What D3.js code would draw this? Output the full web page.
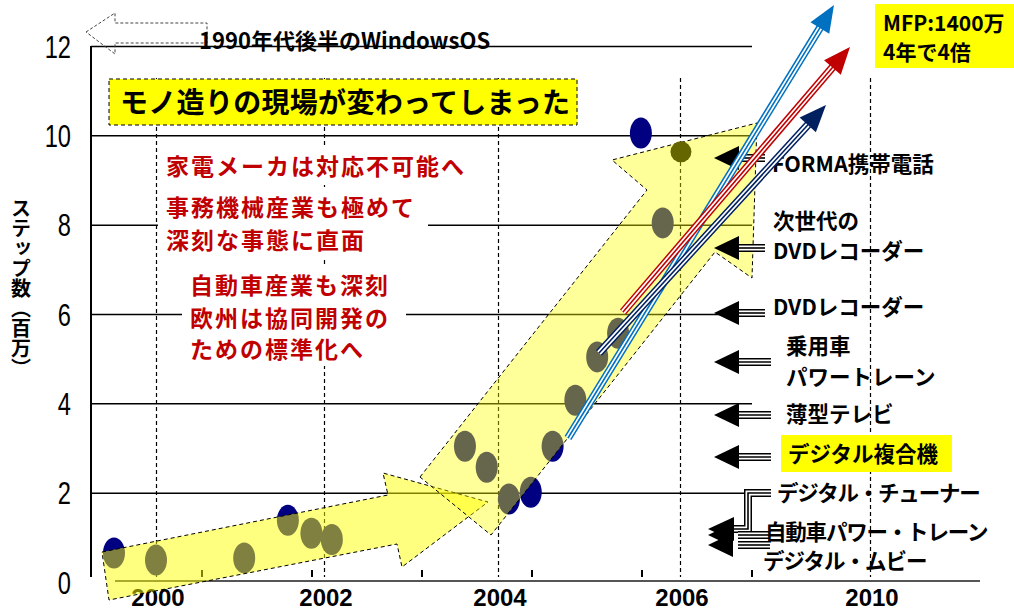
<!DOCTYPE html>
<html>
<head>
<meta charset="utf-8">
<script src="https://cdn.jsdelivr.net/npm/d3@7/dist/d3.min.js"></script>
<style>
  body { margin: 0; background: #fff; }
  svg { display: block; font-family: "Noto Sans CJK JP", sans-serif; }
</style>
</head>
<body>
<svg width="1014" height="610"></svg>
<script>
// ---- data ----
const yearTicks = [2000, 2002, 2004, 2006, 2010];
const stepTicks = [0, 2, 4, 6, 8, 10, 12];
// step counts (millions) of embedded software per product, by year
const pointYears = [1999.5, 2000, 2001.05, 2001.57, 2001.85, 2002.09, 2003.62, 2003.87, 2004.12,
                    2004.36, 2004.6, 2004.85, 2005.09, 2005.32, 2005.57, 2005.81, 2006.02];
const pointSteps = [0.65, 0.49, 0.54, 1.38, 1.09, 0.95, 3.04, 2.57, 1.86,
                    2.01, 3.04, 4.07, 5.04, 5.57, 10.05, 8.04, 9.63];
const productLabels = [
  ["FORMA携帯電話"],
  ["次世代の", "DVDレコーダー"],
  ["DVDレコーダー"],
  ["乗用車", "パワートレーン"],
  ["薄型テレビ"],
  ["デジタル複合機"],
  ["デジタル・チューナー"],
  ["自動車パワー・トレーン"],
  ["デジタル・ムビー"]
];
const redNotes = [
  ["家電メーカは対応不可能へ"],
  ["事務機械産業も極めて", "深刻な事態に直面"],
  ["自動車産業も深刻", "欧州は協同開発の", "ための標準化へ"]
];
const headline = "モノ造りの現場が変わってしまった";
const osNote = "1990年代後半のWindowsOS";
const mfpNote = ["MFP:1400万", "4年で4倍"];
const yTitle = "ステップ数（百万）";

// ---- scales ----
const svg = d3.select("svg");
const x = d3.scaleLinear().domain(yearTicks).range([156, 324, 498, 680, 870]);
const y = d3.scaleLinear().domain([0, 12]).range([582, 46]);

// gridlines + y axis
const gridG = svg.append("g").attr("transform", "translate(91,0)")
  .call(d3.axisLeft(y).tickValues(stepTicks.slice(1)).tickSizeInner(-661).tickSizeOuter(0).tickFormat(""));
gridG.select(".domain").attr("stroke", "#000").attr("stroke-width", 2).attr("d", "M0,46V577");
gridG.selectAll(".tick line").attr("stroke", "#000").attr("stroke-width", 1.5);

// y tick labels (narrow)
svg.selectAll(".ylab").data(stepTicks).join("text")
  .attr("class", "ylab")
  .attr("transform", d => `translate(71,${y(d)}) scale(0.74,1)`)
  .attr("text-anchor", "end").attr("dy", "0.36em")
  .style("font-family", "'Liberation Sans Narrow','Liberation Sans',sans-serif")
  .style("font-size", "32px")
  .text(d => d);

// dashed year lines
svg.selectAll(".yr").data(yearTicks).join("line")
  .attr("x1", d => Math.round(x(d)) + 0.5).attr("x2", d => Math.round(x(d)) + 0.5).attr("y1", 78).attr("y2", 577)
  .attr("stroke", "#000").attr("stroke-width", 1.2).attr("stroke-dasharray", "4,3");

// x axis line and minor ticks
svg.append("line").attr("x1", 115).attr("x2", 980).attr("y1", 581).attr("y2", 581)
  .attr("stroke", "#555").attr("stroke-width", 2);
const minor = d3.scaleLinear().domain([0, 5]).range([202, 752]);
svg.selectAll(".mt").data(d3.range(6)).join("line")
  .attr("x1", d => minor(d)).attr("x2", d => minor(d)).attr("y1", 570).attr("y2", 577)
  .attr("stroke", "#000").attr("stroke-width", 2);

svg.selectAll(".xlab").data(yearTicks).join("text")
  .attr("x", d => x(d) + 2).attr("y", 606).attr("text-anchor", "middle")
  .style("font-family", "'Liberation Sans',sans-serif").style("font-weight", "bold").style("font-size", "24px")
  .text(d => d);

// y title
svg.append("text").attr("x", 21).attr("y", 198)
  .style("writing-mode", "vertical-rl").style("font-weight", "bold").style("font-size", "20px")
  .text(yTitle);

// data points
const pts = pointYears.map((t, i) => ({ t, v: pointSteps[i], last: i === pointYears.length - 1 }));
svg.selectAll(".pt").data(pts.filter(d => !d.last)).join("ellipse")
  .attr("cx", d => x(d.t)).attr("cy", d => y(d.v)).attr("rx", 11).attr("ry", 15.5)
  .attr("fill", "#000080");

// red notes with white backing
const noteLayout = [
  { x: 166, y: [167], box: [158, 148, 312, 37] },
  { x: 166, y: [208, 241], box: [158, 190, 270, 68] },
  { x: 190, y: [286, 319, 350], box: [182, 266, 224, 100] }
];
redNotes.forEach((lines, i) => {
  const L = noteLayout[i];
  svg.append("rect").attr("x", L.box[0]).attr("y", L.box[1]).attr("width", L.box[2]).attr("height", L.box[3]).attr("fill", "#fff");
  lines.forEach((s, j) => svg.append("text").attr("x", L.x).attr("y", L.y[j]).attr("dy", "0.36em")
    .attr("fill", "#c00000").style("font-weight", "bold").style("font-size", "23px").style("letter-spacing", "2px")
    .text(s));
});

// headline box
svg.append("rect").attr("x", 109).attr("y", 79).attr("width", 468).attr("height", 46)
  .attr("fill", "#ffff00").attr("stroke", "#000").attr("stroke-dasharray", "4,3");
svg.append("text").attr("x", 120).attr("y", 103).attr("dy", "0.36em")
  .style("font-weight", "bold").style("font-size", "28px").style("letter-spacing", "0.3px").text(headline);

// big translucent trend arrows
const shape1 = [[102, 552], [388, 495], [383, 473], [488, 502], [402, 567], [397, 544], [109, 600]];
const shape2 = [[420, 477], [647, 190], [612, 160], [757, 123], [752, 278], [715, 252], [491, 535]];
[[shape1, 0.5], [shape2, 0.4]].forEach(([s, op]) => svg.append("polygon")
  .attr("points", s.join(" ")).attr("fill", "#ffff00").attr("fill-opacity", op)
  .attr("stroke", "#000").attr("stroke-width", 1).attr("stroke-dasharray", "4,3"));

svg.selectAll(".ptl").data(pts.filter(d => d.last)).join("circle")
  .attr("cx", d => x(d.t)).attr("cy", d => y(d.v)).attr("r", 10.5).attr("fill", "#666600");

// triple-line arrows
function tripleLine(path, color) {
  [[8, color], [5, "#fff"], [1.6, color]].forEach(([w, c]) => svg.append("path")
    .attr("d", d3.line()(path)).attr("fill", "none").attr("stroke", c).attr("stroke-width", w));
}
function head(tip, from, color, hl = 27, hw = 11) {
  const a = Math.atan2(tip[1] - from[1], tip[0] - from[0]);
  const bx = tip[0] - hl * Math.cos(a), by = tip[1] - hl * Math.sin(a);
  svg.append("polygon").attr("fill", color).attr("points", [
    tip, [bx + hw * Math.sin(a), by - hw * Math.cos(a)], [bx - hw * Math.sin(a), by + hw * Math.cos(a)]
  ].join(" "));
}

// black pointer arrows for product labels
const labelLayout = [
  { x: 772, y: [165], tip: 158, end: 765 },
  { x: 773, y: [222, 252], tip: 248, end: 765 },
  { x: 773, y: [308], tip: 313, end: 765 },
  { x: 786, y: [347, 378], tip: 362, end: 771 },
  { x: 786, y: [415], tip: 415, end: 771 },
  { x: 788, y: [455], tip: 457, end: 771, hi: true },
  { x: 777, y: [494], tip: null, ls: -1.2 },
  { x: 765, y: [533], tip: 535, end: 770, ls: -1.2 },
  { x: 763, y: [562], tip: 545, end: 770, ls: -1 }
];
// elbow from デジタル・チューナー
tripleLine([[771, 493], [748, 493], [748, 529], [730, 529]], "#000");
head([708, 529], [740, 529], "#000", 26, 12);
labelLayout.forEach((L, i) => {
  if (L.tip !== null) {
    tripleLine([[L.end, L.tip], [738, L.tip]], "#000");
    head([i > 6 ? 708 : 714, L.tip], [L.end, L.tip], "#000", 25, 12);
  }
  if (L.hi) svg.append("rect").attr("x", 781).attr("y", 435).attr("width", 171).attr("height", 37).attr("fill", "#ffff00");
  productLabels[i].forEach((s, j) => svg.append("text").attr("x", L.x).attr("y", L.y[j]).attr("dy", "0.34em")
    .style("font-weight", "bold").style("font-size", "21.5px").style("letter-spacing", (L.ls || 0) + "px").text(s));
});

// coloured growth arrows
const growth = [
  { from: [568, 438], tip: [834, 5], color: "#0070c0" },
  { from: [623, 312], tip: [850, 47], color: "#c00000" },
  { from: [599, 353], tip: [826, 105], color: "#002060" }
];
growth.forEach(g => {
  const a = Math.atan2(g.tip[1] - g.from[1], g.tip[0] - g.from[0]);
  const base = [g.tip[0] - 24 * Math.cos(a), g.tip[1] - 24 * Math.sin(a)];
  tripleLine([g.from, base], g.color);
  head(g.tip, g.from, g.color);
});

// Windows OS note
svg.append("polygon").attr("points", [[86, 32], [115, 13], [115, 23], [207, 23], [207, 43], [115, 43], [115, 54]].join(" "))
  .attr("fill", "none").attr("stroke", "#444").attr("stroke-width", 1).attr("stroke-dasharray", "3,2");
svg.append("text").attr("x", 199).attr("y", 41).attr("dy", "0.36em")
  .style("font-weight", "bold").style("font-size", "22px").text(osNote);

// MFP note
svg.append("rect").attr("x", 875).attr("y", 4).attr("width", 139).attr("height", 64).attr("fill", "#ffff00");
mfpNote.forEach((s, i) => svg.append("text").attr("x", 883).attr("y", 24 + i * 29).attr("dy", "0.34em")
  .style("font-weight", "bold").style("font-size", "21px").text(s));
</script>
</body>
</html>
